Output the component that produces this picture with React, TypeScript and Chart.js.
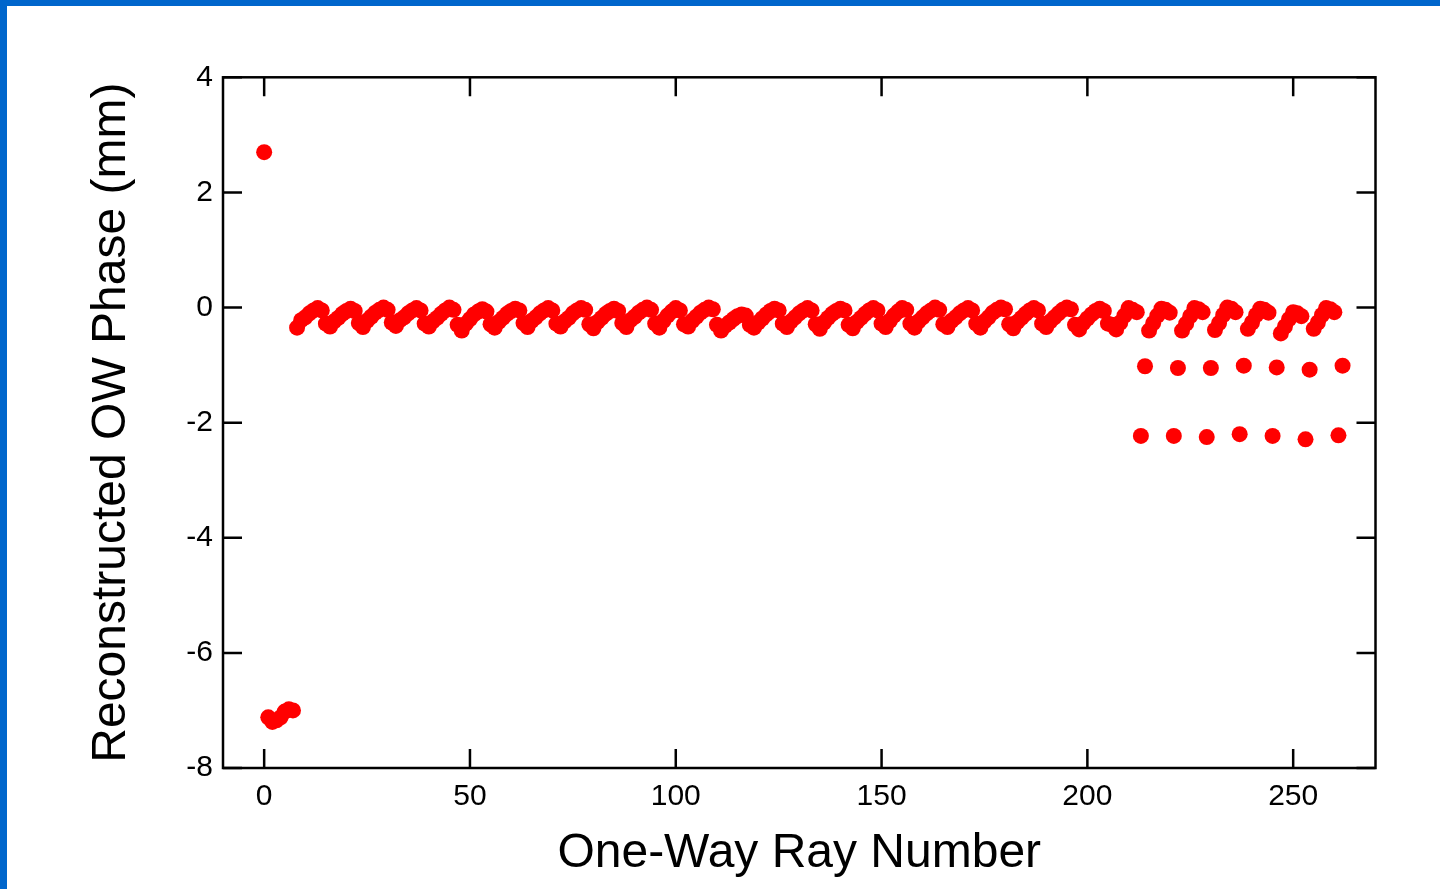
import React, { useEffect, useRef } from 'react';
import { Chart, registerables } from 'chart.js';

Chart.register(...registerables);

// Axis tick values and labels
const xTickValues = [0, 50, 100, 150, 200, 250];
const yTickValues = [-8, -6, -4, -2, 0, 2, 4];
const xTitle = 'One-Way Ray Number';
const yTitle = 'Reconstructed OW Phase (mm)';

// Rays 0..7
const startRay = 0;
const startPhase = [2.70, -7.12, -7.20, -7.17, -7.12, -7.02, -6.98, -7.00];

// Rays 8..212
const bandRay = 8;
const bandPhase = [
  -0.35, -0.22, -0.17, -0.10, -0.05, -0.01, -0.05, -0.28,
  -0.33, -0.24, -0.18, -0.11, -0.06, -0.02, -0.06, -0.27,
  -0.34, -0.23, -0.16, -0.09, -0.04, 0.00, -0.04, -0.26,
  -0.32, -0.22, -0.17, -0.10, -0.05, -0.01, -0.05, -0.28,
  -0.33, -0.24, -0.18, -0.11, -0.05, 0.00, -0.04, -0.30,
  -0.40, -0.28, -0.20, -0.12, -0.07, -0.03, -0.07, -0.29,
  -0.35, -0.25, -0.18, -0.11, -0.06, -0.02, -0.05, -0.27,
  -0.34, -0.23, -0.17, -0.10, -0.05, -0.01, -0.05, -0.28,
  -0.33, -0.24, -0.18, -0.10, -0.05, -0.01, -0.04, -0.29,
  -0.36, -0.25, -0.18, -0.11, -0.06, -0.02, -0.06, -0.27,
  -0.34, -0.22, -0.16, -0.09, -0.04, 0.00, -0.04, -0.28,
  -0.35, -0.23, -0.14, -0.07, -0.01, -0.05, -0.29,
  -0.33, -0.23, -0.16, -0.09, -0.04, 0.00, -0.03, -0.30,
  -0.40, -0.32, -0.26, -0.20, -0.15, -0.12, -0.14, -0.30,
  -0.35, -0.26, -0.19, -0.12, -0.06, -0.02, -0.05, -0.28,
  -0.34, -0.24, -0.17, -0.10, -0.05, -0.01, -0.05, -0.29,
  -0.37, -0.26, -0.18, -0.11, -0.06, -0.02, -0.05, -0.30,
  -0.36, -0.25, -0.18, -0.11, -0.05, -0.01, -0.05, -0.28,
  -0.34, -0.23, -0.14, -0.07, -0.01, -0.04, -0.28,
  -0.35, -0.24, -0.17, -0.10, -0.05, 0.00, -0.04, -0.29,
  -0.34, -0.23, -0.17, -0.10, -0.05, -0.01, -0.05, -0.28,
  -0.35, -0.24, -0.17, -0.09, -0.04, 0.00, -0.03, -0.29,
  -0.36, -0.25, -0.18, -0.11, -0.05, -0.01, -0.05, -0.28,
  -0.34, -0.24, -0.17, -0.10, -0.04, 0.00, -0.03, -0.30,
  -0.38, -0.27, -0.19, -0.12, -0.06, -0.02, -0.06, -0.28,
  -0.30, -0.38, -0.26, -0.14, -0.01, -0.04, -0.08,
];

// Rays 213..262
const tailRay = 213;
const tailPhase = [
  -2.23, -1.02, -0.40, -0.27, -0.14, -0.02, -0.04, -0.09,
  -2.23, -1.05, -0.40, -0.28, -0.15, -0.01, -0.03, -0.08,
  -2.25, -1.05, -0.39, -0.27, -0.13, 0.00, -0.02, -0.08,
  -2.20, -1.01, -0.37, -0.26, -0.13, -0.02, -0.04, -0.09,
  -2.23, -1.04, -0.45, -0.33, -0.20, -0.08, -0.10, -0.15,
  -2.29, -1.08, -0.37, -0.26, -0.13, -0.01, -0.03, -0.08,
  -2.22, -1.01,
];

const FONT = "'Liberation Sans', Arial, Helvetica, sans-serif";

const framePlugin = {
  id: 'frameTicks',
  beforeDraw(chart: any) {
    const { ctx } = chart;
    ctx.save();
    ctx.fillStyle = '#0066CC';
    ctx.fillRect(0, 0, 7, chart.height);
    ctx.fillRect(0, 0, chart.width, 6);
    ctx.restore();
  },
  afterDatasetsDraw(chart: any) {
    const { ctx, chartArea, scales } = chart;
    const { left, right, top, bottom } = chartArea;
    const xs = scales.x;
    const ys = scales.y;
    const tl = 19;
    ctx.save();
    ctx.strokeStyle = '#000';
    ctx.lineWidth = 2.5;
    ctx.strokeRect(left, top, right - left, bottom - top);
    ctx.beginPath();
    for (const v of xTickValues) {
      const px = xs.getPixelForValue(v);
      ctx.moveTo(px, bottom);
      ctx.lineTo(px, bottom - tl);
      ctx.moveTo(px, top);
      ctx.lineTo(px, top + tl);
    }
    for (const v of yTickValues) {
      const py = ys.getPixelForValue(v);
      ctx.moveTo(left, py);
      ctx.lineTo(left + tl, py);
      ctx.moveTo(right, py);
      ctx.lineTo(right - tl, py);
    }
    ctx.stroke();
    ctx.restore();
  },
};

export default function App() {
  const ref = useRef<HTMLCanvasElement>(null);
  useEffect(() => {
    const points = [
      ...startPhase.map((v, i) => ({ x: startRay + i, y: v })),
      ...bandPhase.map((v, i) => ({ x: bandRay + i, y: v })),
      ...tailPhase.map((v, i) => ({ x: tailRay + i, y: v })),
    ];
    const chart = new Chart(ref.current as HTMLCanvasElement, {
      type: 'scatter',
      data: {
        datasets: [
          {
            data: points,
            backgroundColor: '#FF0000',
            borderWidth: 0,
            pointRadius: 8,
            pointHoverRadius: 8,
          },
        ],
      },
      options: {
        responsive: false,
        animation: false,
        events: [],
        layout: { padding: { left: 0, top: 77.3, right: 64.5, bottom: 0 } },
        plugins: { legend: { display: false }, tooltip: { enabled: false } },
        scales: {
          x: {
            type: 'linear',
            min: -10,
            max: 270,
            afterFit: (s: any) => { s.height = 121; },
            afterBuildTicks: (s: any) => { s.ticks = xTickValues.map((v) => ({ value: v })); },
            grid: { display: false, drawTicks: false, tickLength: 0 },
            border: { display: false },
            ticks: { color: '#000', padding: 11, maxRotation: 0, autoSkip: false, font: { family: FONT, size: 30 } },
            title: { display: true, text: xTitle, color: '#000', font: { family: FONT, size: 48 }, padding: { top: 0, bottom: 6 } },
          },
          y: {
            type: 'linear',
            min: -8,
            max: 4,
            afterFit: (s: any) => { s.width = 223; },
            afterBuildTicks: (s: any) => { s.ticks = yTickValues.map((v) => ({ value: v })); },
            grid: { display: false, drawTicks: false, tickLength: 0 },
            border: { display: false },
            ticks: { color: '#000', padding: 10, autoSkip: false, font: { family: FONT, size: 30 } },
            title: { display: true, text: yTitle, color: '#000', font: { family: FONT, size: 48 }, padding: { top: 83, bottom: 0 } },
          },
        },
      },
      plugins: [framePlugin],
    } as any);
    return () => chart.destroy();
  }, []);
  return (
    <div style={{ position: 'fixed', left: 0, top: 0, width: 1440, height: 889, background: '#fff' }}>
      <canvas ref={ref} width={1440} height={889} style={{ display: 'block', width: 1440, height: 889 }} />
    </div>
  );
}
